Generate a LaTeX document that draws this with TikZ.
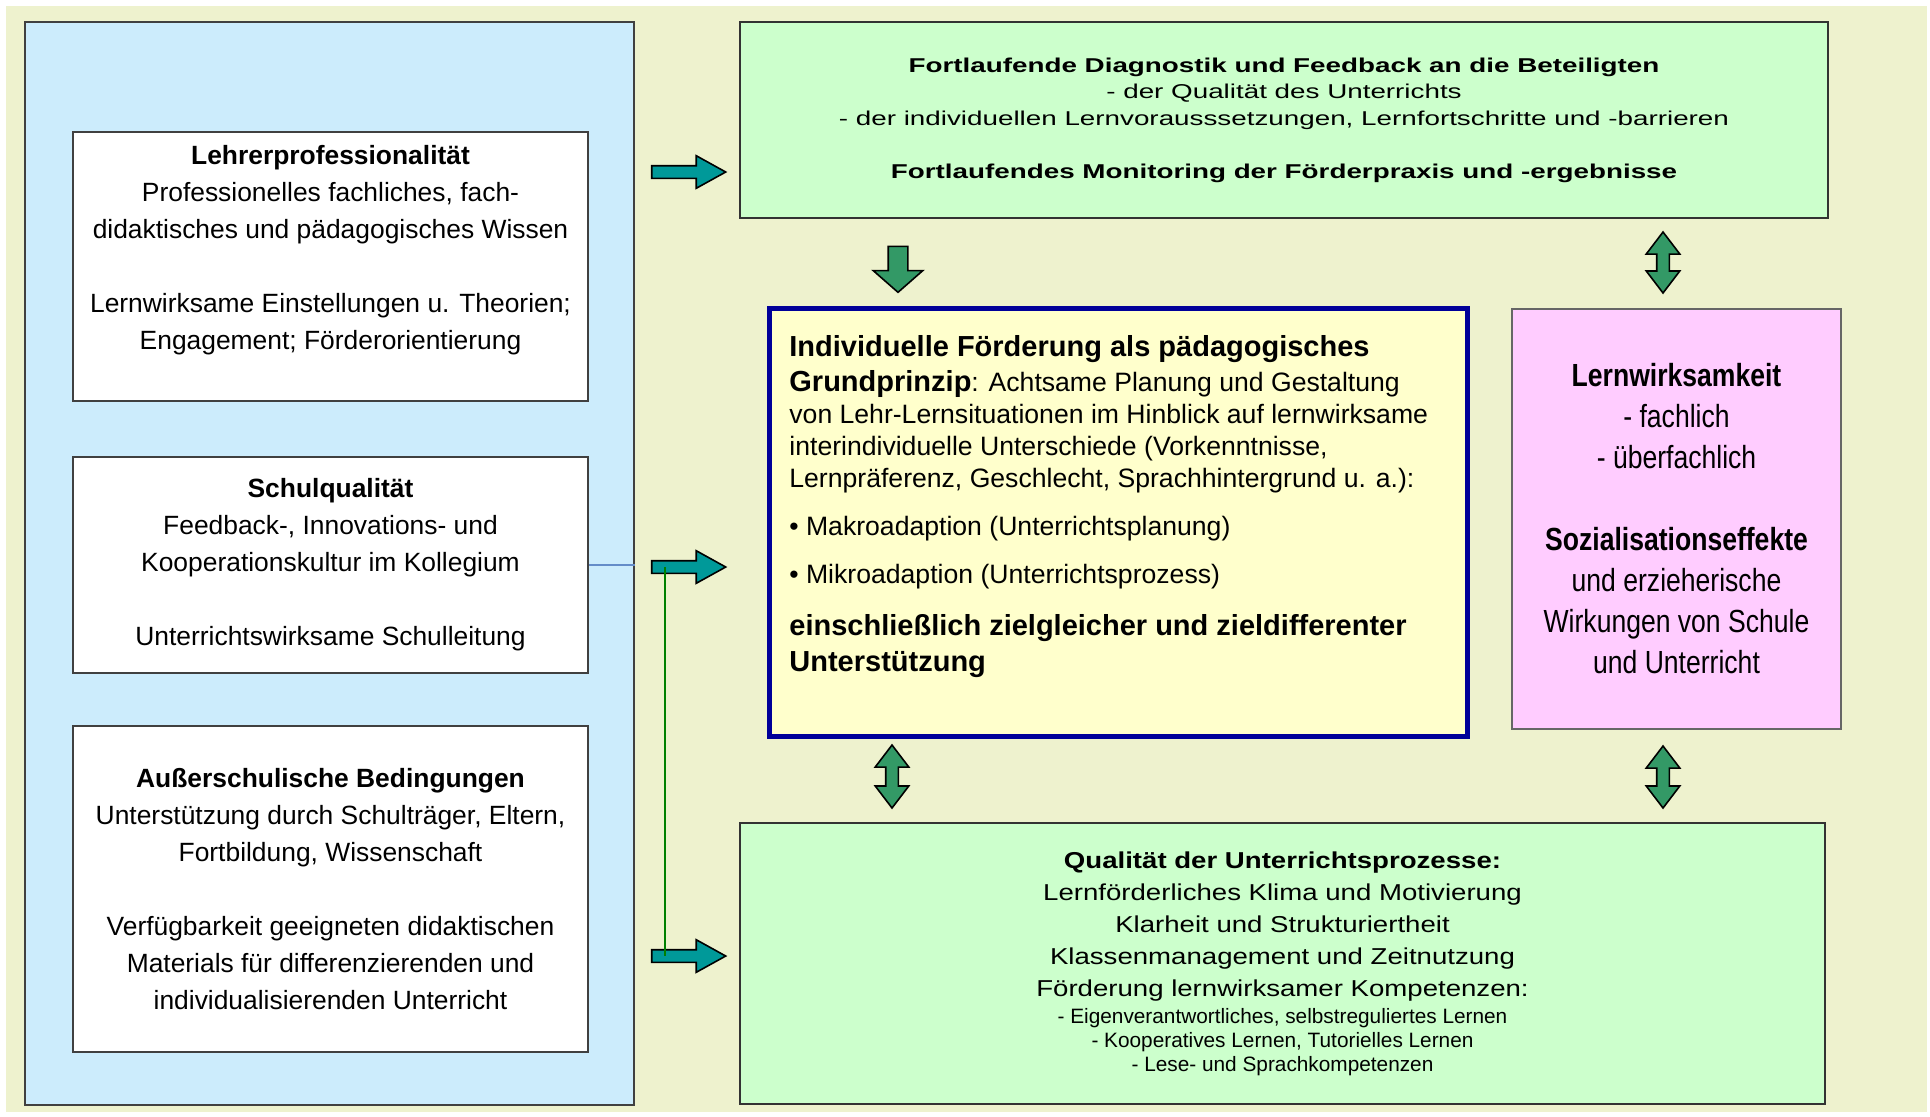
\documentclass[tikz,border=0pt]{standalone}
\usepackage{fontspec}
\setmainfont{Liberation Sans}
\newfontfamily\breitfont{Liberation Sans}[FakeStretch=1.39]
\newfontfamily\mittelfont{Liberation Sans}[FakeStretch=1.2]
\newfontfamily\schmalfont{Liberation Sans}[FakeStretch=0.83]
\usepackage{tikz}
\usetikzlibrary{shapes.arrows,positioning}
\definecolor{cream}{RGB}{238,242,206}
\definecolor{hellblau}{RGB}{204,236,252}
\definecolor{hellgruen}{RGB}{204,255,204}
\definecolor{hellgelb}{RGB}{255,255,204}
\definecolor{rosa}{RGB}{255,204,255}
\definecolor{dunkelblau}{RGB}{0,0,153}
\definecolor{tuerkis}{RGB}{0,153,153}
\definecolor{pfeilgruen}{RGB}{51,153,102}
\definecolor{liniegruen}{RGB}{0,128,0}
\definecolor{linieblau}{RGB}{100,140,200}
\newcommand{\gross}{\fontsize{14.5}{16}\selectfont\bfseries}

\begin{document}
\begin{tikzpicture}[x=0.5pt,y=-0.5pt,
  panel/.style={draw=black!75,line width=1.2pt,fill=hellblau,minimum width=304.5pt,minimum height=541.5pt},
  lbox/.style={draw=black!75,line width=1.2pt,fill=white,minimum width=257.5pt,align=center,font=\fontsize{13.2}{18.5}\selectfont},
  ltext/.style={inner sep=0pt,align=center,font=\fontsize{13.2}{18.5}\selectfont},
  gbox/.style={draw=black!80,line width=1.2pt,fill=hellgruen,align=center},
  ybox/.style={draw=dunkelblau,line width=2.5pt,fill=hellgelb,minimum width=349pt,minimum height=214pt},
  ytext/.style={inner sep=0pt,align=left,font=\fontsize{13.3}{16}\selectfont},
  pbox/.style={draw=black!60,line width=1.2pt,fill=rosa,minimum width=164.5pt,minimum height=210pt,align=center,font=\schmalfont\fontsize{16}{20.5}\selectfont},
  pfeil/.style={single arrow,draw=black,line width=0.8pt,fill=tuerkis,inner xsep=0pt,inner ysep=2.75pt,minimum height=37pt,single arrow head extend=5pt,single arrow tip angle=57.9},
  runter/.style={single arrow,draw=black,line width=0.8pt,fill=pfeilgruen,inner xsep=0pt,inner ysep=4.5pt,minimum height=23pt,single arrow head extend=7.5pt,single arrow tip angle=97.6,rotate=-90},
  doppel/.style={double arrow,draw=black,line width=0.8pt,fill=pfeilgruen,inner xsep=0pt,inner ysep=2.75pt,double arrow head extend=5.25pt,double arrow tip angle=74.6,rotate=90}
]
  \useasboundingbox (0,0) rectangle (1930,1116);
  \fill[white] (0,0) rectangle (1930,1116);
  \fill[cream] (6,6) rectangle (1927,1112);

  \node[panel] (panel) at (329.5,563.5) {};
  \node[lbox,minimum height=134.5pt] (lehrer) at (330.5,266.5) {};
  \node[ltext,anchor=north] (lehrertxt) at (330.5,145) {\textbf{Lehrerprofessionalität}\\Professionelles fachliches, fach-\\didaktisches und pädagogisches Wissen\\[18.5pt]Lernwirksame Einstellungen u. Theorien;\\Engagement; Förderorientierung};
  \node[lbox,minimum height=108pt] (schule) at (330.5,565) {\textbf{Schulqualität}\\Feedback-, Innovations- und\\Kooperationskultur im Kollegium\\[18.5pt]Unterrichtswirksame Schulleitung};
  \node[lbox,minimum height=163pt] (ausser) at (330.5,889) {\textbf{Außerschulische Bedingungen}\\Unterstützung durch Schulträger, Eltern,\\Fortbildung, Wissenschaft\\[18.5pt]Verfügbarkeit geeigneten didaktischen\\Materials für differenzierenden und\\individualisierenden Unterricht};
  \draw[linieblau,line width=1pt] (schule.east) -- (schule.east -| panel.east);

  \node[gbox,minimum width=544pt,minimum height=98pt,font=\breitfont\fontsize{10}{13.25}\selectfont] (diag) at (1284,120) {\textbf{Fortlaufende Diagnostik und Feedback an die Beteiligten}\\- der Qualität des Unterrichts\\- der individuellen Lernvorausssetzungen, Lernfortschritte und -barrieren\\[13.25pt]\textbf{Fortlaufendes Monitoring der Förderpraxis und -ergebnisse}};

  \node[ybox] (foerd) at (1118,522) {};
  \node[ytext,anchor=north west] (foerdtxt) at (789,335) {{\gross Individuelle Förderung als pädagogisches}\\[1.5pt]{\gross Grundprinzip}: Achtsame Planung und Gestaltung\\von Lehr-Lernsituationen im Hinblick auf lernwirksame\\interindividuelle Unterschiede (Vorkenntnisse,\\Lernpräferenz, Geschlecht, Sprachhintergrund u. a.):\\[8pt]• Makroadaption (Unterrichtsplanung)\\[8pt]• Mikroadaption (Unterrichtsprozess)\\[10pt]{\gross einschließlich zielgleicher und zieldifferenter}\\[2pt]{\gross Unterstützung}};

  \node[pbox] (wirk) at (1676.5,519) {\textbf{Lernwirksamkeit}\\- fachlich\\- überfachlich\\[20.5pt]\textbf{Sozialisationseffekte}\\und erzieherische\\Wirkungen von Schule\\und Unterricht};

  \node[gbox,minimum width=542.5pt,minimum height=140.5pt,font=\mittelfont\fontsize{11.5}{16}\selectfont] (qual) at (1282.5,963.5) {\textbf{Qualität der Unterrichtsprozesse:}\\Lernförderliches Klima und Motivierung\\Klarheit und Strukturiertheit\\Klassenmanagement und Zeitnutzung\\Förderung lernwirksamer Kompetenzen:\\[-2.5pt]{\normalfont\fontsize{10.4}{12}\selectfont - Eigenverantwortliches, selbstreguliertes Lernen}\\[-4pt]{\normalfont\fontsize{10.4}{12}\selectfont - Kooperatives Lernen, Tutorielles Lernen}\\[-4pt]{\normalfont\fontsize{10.4}{12}\selectfont - Lese- und Sprachkompetenzen}};

  \node[pfeil] (pfeila) at (683,172) {};
  \node[pfeil] (pfeilb) at (683,567) {};
  \node[pfeil] (pfeilc) at (683,956) {};
  \draw[liniegruen,line width=1.2pt] ([xshift=7pt]pfeilb.west) -- ([xshift=7pt]pfeilc.west);

  \node[runter] (runter) at (898,265) {};
  \node[doppel,minimum height=30.5pt] (doppela) at (1663,262.5) {};
  \node[doppel,minimum height=31.5pt] (doppelb) at (892,776.5) {};
  \node[doppel,minimum height=31pt] (doppelc) at (1663,777) {};
\end{tikzpicture}
\end{document}
